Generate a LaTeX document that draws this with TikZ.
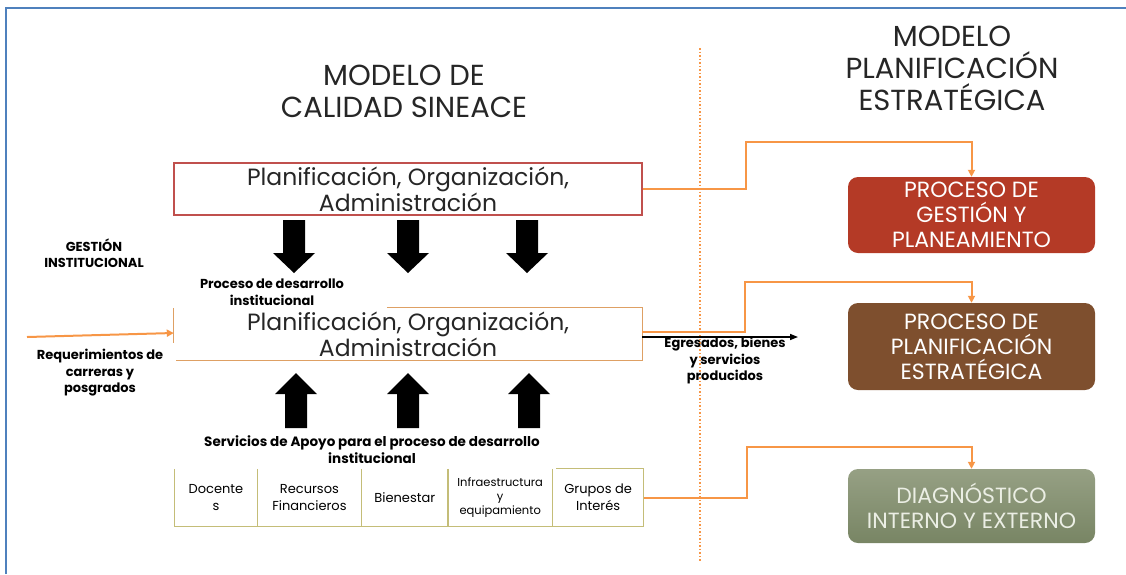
\documentclass[tikz,border=0pt]{standalone}
\usepackage{fontspec}
\setmainfont{Poppins}
\usetikzlibrary{arrows.meta,positioning}

\definecolor{framebl}{RGB}{79,129,189}
\definecolor{redline}{RGB}{192,80,77}
\definecolor{tanline}{RGB}{222,160,100}
\definecolor{oliveline}{RGB}{196,189,120}
\definecolor{linkor}{RGB}{247,150,70}
\definecolor{gestfill}{RGB}{180,58,38}
\definecolor{planfill}{RGB}{126,79,46}
\definecolor{diagtop}{RGB}{150,160,132}
\definecolor{diagbot}{RGB}{120,133,100}
\definecolor{diagtext}{RGB}{235,238,228}

\begin{document}
\begin{tikzpicture}[x=1pt,y=-1pt,
        titletxt/.style={align=center,text=black!85,font=\fontsize{29}{32}\selectfont},
        lbl/.style={align=center,font=\bfseries\fontsize{13}{16.5}\selectfont},
        planbox/.style={minimum width=468pt,minimum height=52pt,inner sep=0pt,align=center,
            text=black!85,font=\fontsize{23.5}{26}\selectfont},
        procbox/.style={rounded corners=10pt,minimum width=247pt,inner sep=0pt,align=center,
            text=white,font=\fontsize{22}{25}\selectfont},
        cell/.style={minimum height=57pt,inner sep=0pt,align=center,font=\fontsize{13}{17}\selectfont},
        tabline/.style={draw=oliveline,line width=1.2pt},
        midline/.style={draw=tanline,line width=1.2pt},
        link/.style={draw=linkor,line width=2pt,-{Triangle[width=7pt,length=7pt]}}
    ]
    \useasboundingbox (0,0) rectangle (1126,574);
    \def\sw{11}
    \def\hw{21}

    % frame and separator
    \coordinate (fbot) at (6,574);
    \coordinate (fcorner) at (6,8);
    \coordinate (fright) at (1126,8);
    \draw[framebl,line width=2pt] (fbot) -- (fcorner) -- (fright);
    \coordinate (dtop) at (700,48);
    \coordinate (dbot) at (700,562);
    \draw[linkor,line width=1.5pt,dotted] (dtop) -- (dbot);

    % titles
    \node[titletxt] (sineace) at (404,91) {MODELO DE\\CALIDAD SINEACE};
    \node[titletxt] (estrat) at (952,68) {MODELO\\PLANIFICACIÓN\\ESTRATÉGICA};

    % left model
    \node[planbox,draw=redline,line width=1.2pt] (topbox) at (408,189)
        {Planificación, Organización,\\Administración};
    \node[planbox] (midbox) at (408,334) {Planificación, Organización,\\Administración};
    \draw[midline] ([xshift=213pt]midbox.north west) -- (midbox.north east)
        -- (midbox.south east) -- ([xshift=2pt]midbox.south west);
    \draw[midline] (midbox.north west) -- ([yshift=17pt]midbox.south west);

    \foreach \ax in {294,408,527}{
            \fill (\ax-\sw,220) -- (\ax+\sw,220) -- (\ax+\sw,253) -- (\ax+\hw,253)
                -- (\ax,273) -- (\ax-\hw,253) -- (\ax-\sw,253) -- cycle;
        }
    \foreach \ax in {296,408,529}{
            \fill (\ax-\sw,428) -- (\ax+\sw,428) -- (\ax+\sw,394) -- (\ax+\hw,394)
                -- (\ax,373) -- (\ax-\hw,394) -- (\ax-\sw,394) -- cycle;
        }

    \node[lbl] (gestlbl) at (94,253) {GESTIÓN\\INSTITUCIONAL};
    \node[lbl] (proclbl) at (272,292) {Proceso de desarrollo\\institucional};
    \node[lbl] (reqlbl) at (100,373) {Requerimientos de\\carreras y\\posgrados};
    \node[lbl] (egrlbl) at (725,361) {Egresados, bienes\\y servicios\\producidos};
    \node[lbl,font=\bfseries\fontsize{13.5}{17}\selectfont] (servlbl) at (372,450)
        {Servicios de Apoyo para el proceso de desarrollo\\institucional};

    % support services
    \node[cell,minimum width=82pt] (doc) at (216,497.5) {Docente\\s};
    \node[cell,minimum width=104pt,right=0pt of doc] (rec) {Recursos\\Financieros};
    \node[cell,minimum width=86pt,right=0pt of rec] (bien) {Bienestar};
    \node[cell,minimum width=104pt,right=0pt of bien,font=\fontsize{11.5}{14}\selectfont] (infra)
        {Infraestructura\\y\\equipamiento};
    \node[cell,minimum width=91pt,right=0pt of infra] (grp) {Grupos de\\Interés};
    \draw[tabline] (doc.north west) -- (doc.south west) -- (grp.south east)
        -- (grp.north east) -- ([xshift=4pt]grp.north west);
    \foreach \c in {rec,bien,infra,grp}{
            \draw[tabline] (\c.north west) -- (\c.south west);
        }

    % right model
    \node[procbox,fill=gestfill,minimum height=76pt] (gest) at (971.5,215)
        {PROCESO DE\\GESTIÓN Y\\PLANEAMIENTO};
    \node[procbox,fill=planfill,minimum height=87pt] (plan) at (971.5,346.5)
        {PROCESO DE\\PLANIFICACIÓN\\ESTRATÉGICA};
    \node[procbox,top color=diagtop,bottom color=diagbot,text=diagtext,minimum height=74pt]
        (diag) at (971.5,506) {DIAGNÓSTICO\\INTERNO Y EXTERNO};

    % connectors
    \coordinate (reqin) at (27,337);
    \draw[link] (reqin) -- ([yshift=1pt]midbox.west);
    \draw[link] (topbox.east) -- ++(103,0) |- ([yshift=35pt]gest.north) -- (gest.north);
    \draw[link] ([yshift=2pt]midbox.east) -- ++(103,0) |- ([yshift=21pt]plan.north) -- (plan.north);
    \draw[link] (grp.east) -- ++(103,0) |- ([yshift=22pt]diag.north) -- (diag.north);
    \coordinate (egrout) at (798,337);
    \draw[line width=1.5pt,-{Triangle[width=6pt,length=8pt]}] ([yshift=-3pt]midbox.east) -- (egrout);
\end{tikzpicture}
\end{document}
